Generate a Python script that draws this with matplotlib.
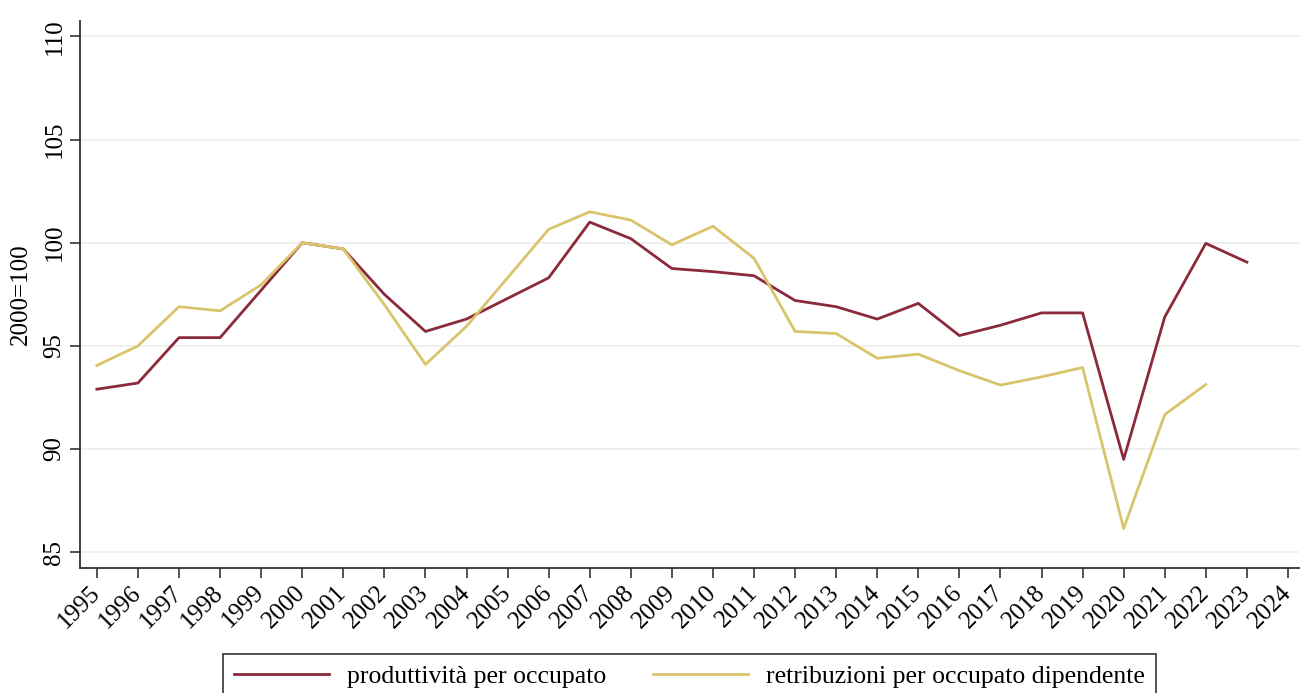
import matplotlib
matplotlib.use('Agg')
import matplotlib.pyplot as plt

plt.rcParams['font.family'] = ['Liberation Serif', 'DejaVu Serif']

# years and series (2000=100)
years = list(range(1995, 2025))
produttivita = [92.9, 93.2, 95.4, 95.4, 97.7, 100.0, 99.7, 97.5, 95.7, 96.3,
                97.3, 98.3, 101.0, 100.2, 98.75, 98.6, 98.4, 97.2, 96.9, 96.3,
                97.06, 95.5, 96.0, 96.6, 96.6, 89.5, 96.4, 99.97, 99.06]
retribuzioni = [94.05, 95.0, 96.9, 96.7, 97.96, 100.0, 99.7, 97.0, 94.1, 95.95,
                98.3, 100.65, 101.5, 101.1, 99.9, 100.8, 99.25, 95.7, 95.6, 94.4,
                94.6, 93.8, 93.1, 93.5, 93.95, 86.15, 91.67, 93.13]
yticks = [85, 90, 95, 100, 105, 110]

fig = plt.figure(figsize=(13.01, 6.93), dpi=100)
ax = fig.add_axes([0.0615, 0.18, 0.937, 0.79])

ax.plot(years[:len(produttivita)], produttivita, color='#8b2a3b', lw=2,
        label='produttività per occupato')
ax.plot(years[:len(retribuzioni)], retribuzioni, color='#d9c46c', lw=2,
        label='retribuzioni per occupato dipendente')

ax.set_xlim(1994.59, 2024.27)
ax.set_ylim(84.22, 110.76)
ax.set_yticks(yticks)
ax.set_yticklabels([str(v) for v in yticks], rotation=90, va='center', fontsize=18)
ax.set_xticks(years)
ax.set_xticklabels([str(y) for y in years], rotation=45, ha='right', va='center',
                   rotation_mode='anchor', fontsize=18)
ax.set_ylabel('2000=100', fontsize=18, labelpad=8)

ax.grid(axis='y', color='#ececec', lw=1.2)
ax.set_axisbelow(True)
for s in ['top', 'right']:
    ax.spines[s].set_visible(False)
for s in ['left', 'bottom']:
    ax.spines[s].set_color('#333333')
    ax.spines[s].set_linewidth(1.3)
ax.tick_params(direction='out', length=7, width=1.2, color='#333333')
ax.tick_params(axis='x', pad=8)

leg = ax.legend(loc='upper center', bbox_to_anchor=(0.5, -0.133), ncol=2,
                frameon=True, fancybox=False, fontsize=18.5, handlelength=3.7,
                handletextpad=0.7, columnspacing=1.8, borderpad=0.45)
leg.get_frame().set_edgecolor('black')
leg.get_frame().set_linewidth(1.2)

fig.savefig('out.png', dpi=100)
